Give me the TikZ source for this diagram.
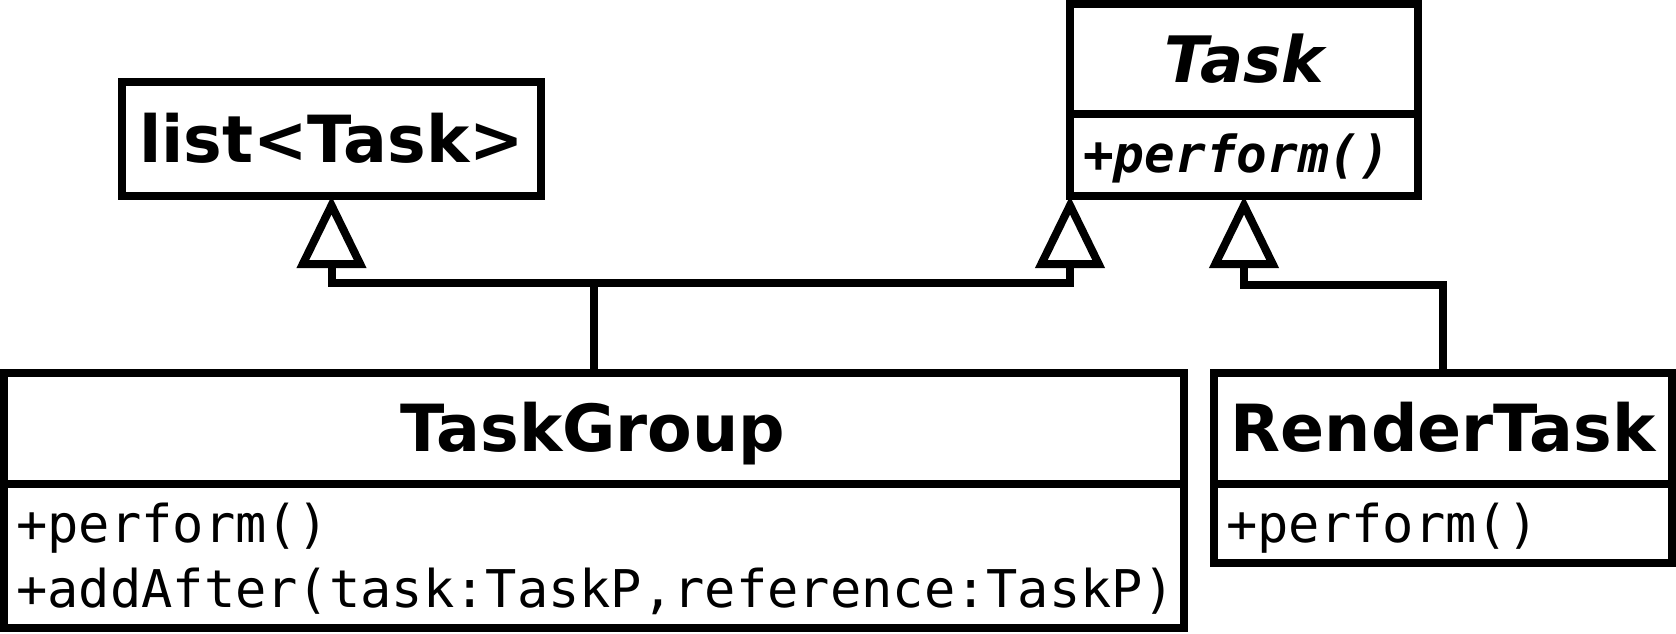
\documentclass[tikz,border=0pt]{standalone}
\usepackage{fontspec}
\setmainfont{DejaVu Sans}
\newfontfamily\monof{DejaVu Sans Mono}
\usetikzlibrary{arrows.meta}
\tikzset{
  lw/.style={line width=8pt},
  classbox/.style={draw, lw, inner sep=0pt, outer sep=0pt, anchor=north west},
  titletext/.style={inner sep=0pt, anchor=base, font=\fontsize{65}{65}\selectfont\bfseries},
  methtext/.style={inner sep=0pt, anchor=base west, font=\fontsize{52}{52}\selectfont\monof},
  gen/.style={lw, -{Triangle[open, length=72pt, width=68pt, line width=8pt]}},
}
\begin{document}
\begin{tikzpicture}[x=1pt, y=-1pt]
\useasboundingbox (0,0) rectangle (1676,633);
% boxes
\node[classbox, minimum width=419pt, minimum height=114pt] (list) at (122,82) {};
\node[classbox, minimum width=348pt, minimum height=192pt] (task) at (1070,4) {};
\node[classbox, minimum width=1180pt, minimum height=255pt] (tg) at (3.8,373) {};
\node[classbox, minimum width=458pt, minimum height=190pt] (rt) at (1214,373) {};
% dividers
\draw[lw] (task.west |- 0,114) -- (task.east |- 0,114);
\draw[lw] (tg.west |- 0,484) -- (tg.east |- 0,484);
\draw[lw] (rt.west |- 0,484) -- (rt.east |- 0,484);
% texts
\node[titletext] (listT) at (331.5,162) {list<Task>};
\node[titletext, font=\fontsize{64}{64}\selectfont\bfseries\itshape] (taskT) at (1244,82) {Task};
\node[methtext, font=\fontsize{51}{51}\selectfont\monof\bfseries\itshape] (taskM) at (1083,172) {+perform()};
\node[titletext] (tgT) at (593,451) {TaskGroup};
\node[methtext] (tgM1) at (16,542) {+perform()};
\node[methtext] (tgM2) at (16,607) {+addAfter(task:TaskP,reference:TaskP)};
\node[titletext] (rtT) at (1443,451) {RenderTask};
\node[methtext] (rtM) at (1226,542) {+perform()};
% connectors
\coordinate (jn) at (tg.north |- 0,282.5);
\draw[gen] (tg.north) -- (jn) -| (list.south);
\draw[gen] (jn) -| (task.south west);
\coordinate (jr) at (rt.north |- 0,284.5);
\draw[gen] (rt.north) -- (jr) -| (task.south);
\end{tikzpicture}
\end{document}
